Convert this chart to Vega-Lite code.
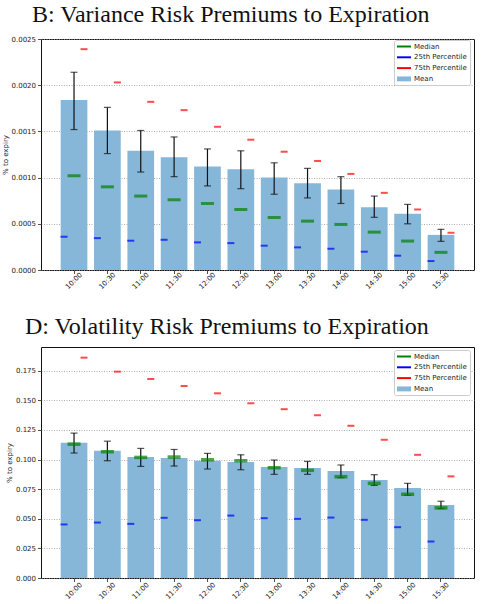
{
  "$schema": "https://vega.github.io/schema/vega-lite/v6.json",
  "padding": {"left": 0, "top": 2, "right": 4, "bottom": 0},
  "spacing": 23,
  "resolve": {"scale": {"color": "independent"}, "legend": {"color": "independent"}},
  "datasets": {
    "vrp": [
      {"time": "10:00", "mean": 0.00184, "lo": 0.00152, "hi": 0.00214, "median": 0.00102, "p25": 0.00036, "p75": 0.00239},
      {"time": "10:30", "mean": 0.00151, "lo": 0.00126, "hi": 0.00176, "median": 0.00090, "p25": 0.000345, "p75": 0.00203},
      {"time": "11:00", "mean": 0.00129, "lo": 0.00106, "hi": 0.00151, "median": 0.00080, "p25": 0.000317, "p75": 0.00182},
      {"time": "11:30", "mean": 0.00122, "lo": 0.00101, "hi": 0.00144, "median": 0.00076, "p25": 0.000327, "p75": 0.00173},
      {"time": "12:00", "mean": 0.00112, "lo": 0.00091, "hi": 0.00131, "median": 0.00072, "p25": 0.000299, "p75": 0.00155},
      {"time": "12:30", "mean": 0.00109, "lo": 0.00088, "hi": 0.00129, "median": 0.000655, "p25": 0.000291, "p75": 0.00141},
      {"time": "13:00", "mean": 0.00100, "lo": 0.00082, "hi": 0.00116, "median": 0.000568, "p25": 0.000263, "p75": 0.00128},
      {"time": "13:30", "mean": 0.00094, "lo": 0.00078, "hi": 0.00110, "median": 0.000529, "p25": 0.000245, "p75": 0.00118},
      {"time": "14:00", "mean": 0.00087, "lo": 0.00072, "hi": 0.00101, "median": 0.000493, "p25": 0.00023, "p75": 0.00104},
      {"time": "14:30", "mean": 0.00068, "lo": 0.00057, "hi": 0.00080, "median": 0.00041, "p25": 0.000198, "p75": 0.000835},
      {"time": "15:00", "mean": 0.00061, "lo": 0.00050, "hi": 0.00071, "median": 0.000313, "p25": 0.000155, "p75": 0.000655},
      {"time": "15:30", "mean": 0.00038, "lo": 0.00031, "hi": 0.00044, "median": 0.000191, "p25": 0.000097, "p75": 0.000403}
    ],
    "volrp": [
      {"time": "10:00", "mean": 0.1141, "lo": 0.1055, "hi": 0.1223, "median": 0.113, "p25": 0.0452, "p75": 0.186},
      {"time": "10:30", "mean": 0.1074, "lo": 0.099, "hi": 0.1155, "median": 0.1066, "p25": 0.0468, "p75": 0.1742},
      {"time": "11:00", "mean": 0.1021, "lo": 0.0942, "hi": 0.1094, "median": 0.1018, "p25": 0.0457, "p75": 0.168},
      {"time": "11:30", "mean": 0.1012, "lo": 0.0945, "hi": 0.1085, "median": 0.1021, "p25": 0.0508, "p75": 0.1621},
      {"time": "12:00", "mean": 0.099, "lo": 0.092, "hi": 0.1052, "median": 0.0998, "p25": 0.0488, "p75": 0.1559},
      {"time": "12:30", "mean": 0.0979, "lo": 0.0914, "hi": 0.104, "median": 0.099, "p25": 0.0527, "p75": 0.1475},
      {"time": "13:00", "mean": 0.0937, "lo": 0.0875, "hi": 0.0996, "median": 0.0931, "p25": 0.0505, "p75": 0.1425},
      {"time": "13:30", "mean": 0.0928, "lo": 0.0875, "hi": 0.0984, "median": 0.0909, "p25": 0.0499, "p75": 0.1374},
      {"time": "14:00", "mean": 0.0903, "lo": 0.0847, "hi": 0.0954, "median": 0.0855, "p25": 0.051, "p75": 0.1285},
      {"time": "14:30", "mean": 0.0827, "lo": 0.0782, "hi": 0.0872, "median": 0.0799, "p25": 0.0491, "p75": 0.1167},
      {"time": "15:00", "mean": 0.076, "lo": 0.0698, "hi": 0.0799, "median": 0.0707, "p25": 0.0429, "p75": 0.104},
      {"time": "15:30", "mean": 0.0617, "lo": 0.0586, "hi": 0.0648, "median": 0.0592, "p25": 0.0308, "p75": 0.0858}
    ]
  },
  "config": {
    "view": {"stroke": "#111111", "strokeWidth": 1},
    "font": "DejaVu Sans",
    "axis": {
      "labelFont": "DejaVu Sans", "labelFontSize": 7, "labelColor": "#222222",
      "tickColor": "#222222", "tickSize": 3.5, "tickWidth": 0.8, "domain": false,
      "titleFont": "DejaVu Sans", "titleFontSize": 7, "titleFontWeight": "normal", "titleColor": "#222222"
    },
    "axisY": {"grid": true, "gridDash": [1, 1.5], "gridColor": "#999999", "gridWidth": 0.8, "labelPadding": 2, "titlePadding": 3},
    "title": {"font": "Liberation Serif", "fontSize": 24, "fontWeight": "normal", "color": "#111111", "anchor": "start", "frame": "group"},
    "legend": {
      "orient": "none", "labelFont": "DejaVu Sans", "labelFontSize": 7, "labelColor": "#222222",
      "symbolSize": 49, "symbolStrokeWidth": 0, "rowPadding": 2.8, "padding": 3, "symbolOffset": 3.5,
      "strokeColor": "#cccccc", "fillColor": "white", "cornerRadius": 2, "labelOffset": 6.5
    }
  },
  "vconcat": [
    {
      "width": 433, "height": 231,
      "title": {"text": "B: Variance Risk Premiums to Expiration", "dx": -9, "offset": 8},
      "data": {"name": "vrp"},
      "encoding": {
        "x": {"field": "time", "type": "ordinal", "sort": null,
              "scale": {"paddingInner": 0.2, "paddingOuter": 0.59},
              "axis": {"title": null, "labelAngle": -45, "labelAlign": "center", "labelBaseline": "middle", "labelPadding": 7, "grid": false}}
      },
      "layer": [
        {"mark": {"type": "bar"},
         "encoding": {
           "y": {"field": "mean", "type": "quantitative", "scale": {"domain": [0, 0.0025], "nice": false},
                 "axis": {"title": "% to expiry", "format": ".4f", "values": [0, 0.0005, 0.001, 0.0015, 0.002, 0.0025]}},
           "color": {"datum": "Mean", "type": "nominal",
                     "scale": {"domain": ["Median", "25th Percentile", "75th Percentile", "Mean"], "range": ["#008000", "#0000ff", "#ff0000", "#86b6d8"]},
                     "legend": {"title": null, "legendX": 353, "legendY": 1,
                                "encode": {"symbols": {"update": {"shape": {"signal": "datum.value === 'Mean' ? 'M-2,-0.7H2V0.7H-2Z' : 'M-2,-0.28H2V0.28H-2Z'"}}}}}}
         }},
        {"mark": {"type": "rule", "color": "#111111", "strokeWidth": 1.2},
         "encoding": {"y": {"field": "lo", "type": "quantitative", "axis": {"title": "% to expiry", "format": ".4f", "values": [0, 0.0005, 0.001, 0.0015, 0.002, 0.0025]}}, "y2": {"field": "hi"}}},
        {"mark": {"type": "tick", "color": "#111111", "size": 7, "thickness": 1.2},
         "encoding": {"y": {"field": "lo", "type": "quantitative", "axis": {"title": "% to expiry", "format": ".4f", "values": [0, 0.0005, 0.001, 0.0015, 0.002, 0.0025]}}}},
        {"mark": {"type": "tick", "color": "#111111", "size": 7, "thickness": 1.2},
         "encoding": {"y": {"field": "hi", "type": "quantitative", "axis": {"title": "% to expiry", "format": ".4f", "values": [0, 0.0005, 0.001, 0.0015, 0.002, 0.0025]}}}},
        {"mark": {"type": "tick", "size": 13, "thickness": 3},
         "encoding": {"y": {"field": "median", "type": "quantitative", "axis": {"title": "% to expiry", "format": ".4f", "values": [0, 0.0005, 0.001, 0.0015, 0.002, 0.0025]}}, "color": {"datum": "Median", "type": "nominal"}}},
        {"mark": {"type": "tick", "size": 7, "thickness": 2, "xOffset": -10},
         "encoding": {"y": {"field": "p25", "type": "quantitative", "axis": {"title": "% to expiry", "format": ".4f", "values": [0, 0.0005, 0.001, 0.0015, 0.002, 0.0025]}}, "color": {"datum": "25th Percentile", "type": "nominal"}}},
        {"mark": {"type": "tick", "size": 7, "thickness": 2, "xOffset": 10},
         "encoding": {"y": {"field": "p75", "type": "quantitative", "axis": {"title": "% to expiry", "format": ".4f", "values": [0, 0.0005, 0.001, 0.0015, 0.002, 0.0025]}}, "color": {"datum": "75th Percentile", "type": "nominal"}}}
      ]
    },
    {
      "width": 433, "height": 231,
      "title": {"text": "D: Volatility Risk Premiums to Expiration", "dx": -16, "offset": 8},
      "data": {"name": "volrp"},
      "encoding": {
        "x": {"field": "time", "type": "ordinal", "sort": null,
              "scale": {"paddingInner": 0.2, "paddingOuter": 0.59},
              "axis": {"title": null, "labelAngle": -45, "labelAlign": "center", "labelBaseline": "middle", "labelPadding": 9, "grid": false}}
      },
      "layer": [
        {"mark": {"type": "bar"},
         "encoding": {
           "y": {"field": "mean", "type": "quantitative", "scale": {"domain": [0, 0.195], "nice": false},
                 "axis": {"title": "% to expiry", "format": ".3f", "values": [0, 0.025, 0.05, 0.075, 0.1, 0.125, 0.15, 0.175]}},
           "color": {"datum": "Mean", "type": "nominal",
                     "scale": {"domain": ["Median", "25th Percentile", "75th Percentile", "Mean"], "range": ["#008000", "#0000ff", "#ff0000", "#86b6d8"]},
                     "legend": {"title": null, "legendX": 353, "legendY": 3,
                                "encode": {"symbols": {"update": {"shape": {"signal": "datum.value === 'Mean' ? 'M-2,-0.7H2V0.7H-2Z' : 'M-2,-0.28H2V0.28H-2Z'"}}}}}}
         }},
        {"mark": {"type": "rule", "color": "#111111", "strokeWidth": 1.2},
         "encoding": {"y": {"field": "lo", "type": "quantitative", "axis": {"title": "% to expiry", "format": ".3f", "values": [0, 0.025, 0.05, 0.075, 0.1, 0.125, 0.15, 0.175]}}, "y2": {"field": "hi"}}},
        {"mark": {"type": "tick", "color": "#111111", "size": 7, "thickness": 1.2},
         "encoding": {"y": {"field": "lo", "type": "quantitative", "axis": {"title": "% to expiry", "format": ".3f", "values": [0, 0.025, 0.05, 0.075, 0.1, 0.125, 0.15, 0.175]}}}},
        {"mark": {"type": "tick", "color": "#111111", "size": 7, "thickness": 1.2},
         "encoding": {"y": {"field": "hi", "type": "quantitative", "axis": {"title": "% to expiry", "format": ".3f", "values": [0, 0.025, 0.05, 0.075, 0.1, 0.125, 0.15, 0.175]}}}},
        {"mark": {"type": "tick", "size": 13, "thickness": 3.5},
         "encoding": {"y": {"field": "median", "type": "quantitative", "axis": {"title": "% to expiry", "format": ".3f", "values": [0, 0.025, 0.05, 0.075, 0.1, 0.125, 0.15, 0.175]}}, "color": {"datum": "Median", "type": "nominal"}}},
        {"mark": {"type": "tick", "size": 7, "thickness": 2, "xOffset": -10},
         "encoding": {"y": {"field": "p25", "type": "quantitative", "axis": {"title": "% to expiry", "format": ".3f", "values": [0, 0.025, 0.05, 0.075, 0.1, 0.125, 0.15, 0.175]}}, "color": {"datum": "25th Percentile", "type": "nominal"}}},
        {"mark": {"type": "tick", "size": 7, "thickness": 2, "xOffset": 10},
         "encoding": {"y": {"field": "p75", "type": "quantitative", "axis": {"title": "% to expiry", "format": ".3f", "values": [0, 0.025, 0.05, 0.075, 0.1, 0.125, 0.15, 0.175]}}, "color": {"datum": "75th Percentile", "type": "nominal"}}}
      ]
    }
  ]
}
